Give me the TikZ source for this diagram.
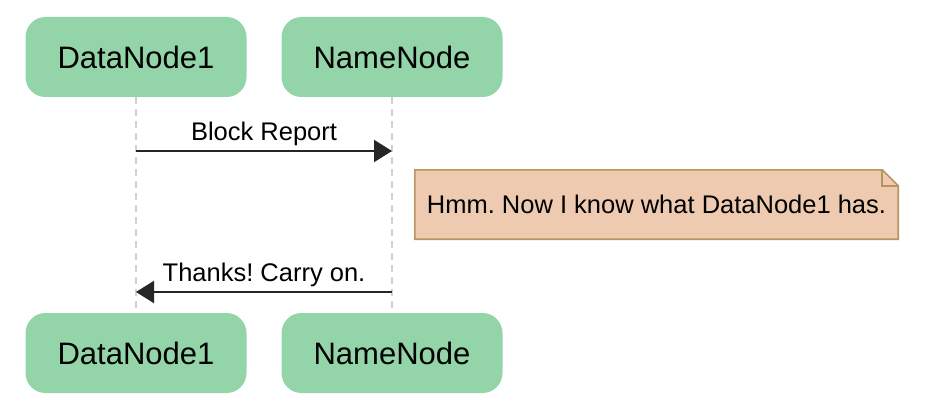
\documentclass[tikz,border=0pt]{standalone}
\usepackage{fontspec}
\setmainfont{Liberation Sans}
\frenchspacing
\usetikzlibrary{arrows.meta,calc,positioning,backgrounds}

\definecolor{actorgreen}{HTML}{93D5A9}
\definecolor{notefill}{HTML}{EDCAB0}
\definecolor{noteline}{HTML}{B8955F}
\definecolor{lifegray}{HTML}{D0D0D0}

\tikzset{
  actor/.style={fill=actorgreen,rounded corners=20pt,minimum width=221pt,minimum height=80pt,
    inner sep=0pt,font=\fontsize{31}{37}\selectfont},
  lifeline/.style={lifegray,line width=2pt,dash pattern=on 7pt off 5pt},
  msg/.style={line width=2pt,black!85,-{Triangle[length=18pt,width=22pt]}},
  msglabel/.style={font=\fontsize{25.5}{30}\selectfont,inner sep=0pt,text=black},
  notebox/.style={fill=notefill,draw=noteline,line width=1.6pt,line join=miter}
}

\begin{document}
\begin{tikzpicture}[x=1pt,y=-1pt]
    \useasboundingbox (0,0) rectangle (952,409);
    \node[actor] (dn-top) at (136,57) {DataNode1};
    \node[actor] (nn-top) at (392,57) {NameNode};
    \node[actor] (dn-bot) at (136,353) {DataNode1};
    \node[actor] (nn-bot) at (392,353) {NameNode};
    \draw[lifeline] (dn-top) -- (dn-bot);
    \draw[lifeline] (nn-top) -- (nn-bot);

    \coordinate (dn-a) at (136,151);
    \coordinate (nn-a) at (392,151);
    \coordinate (dn-b) at (136,292);
    \coordinate (nn-b) at (392,292);
    \draw[msg] (dn-a) -- node[msglabel,above=4pt] {Block Report} (nn-a);
    \draw[msg] (nn-b) -- node[msglabel,above=4pt] {Thanks! Carry on.} (dn-b);

    % note with folded corner
    \node[msglabel,minimum width=483pt,minimum height=69pt] (note) at (656.5,204.5)
      {Hmm. Now I know what DataNode1 has.};
    \begin{scope}[on background layer]
      \draw[notebox] (note.south west) -- (note.north west) -- ($(note.north east)+(-16,0)$)
        -- ($(note.north east)+(0,16)$) -- (note.south east) -- cycle;
      \draw[noteline,line width=1.6pt] ($(note.north east)+(-16,0)$) -- ($(note.north east)+(-16,16)$)
        -- ($(note.north east)+(0,16)$);
    \end{scope}
  \end{tikzpicture}
\end{document}
